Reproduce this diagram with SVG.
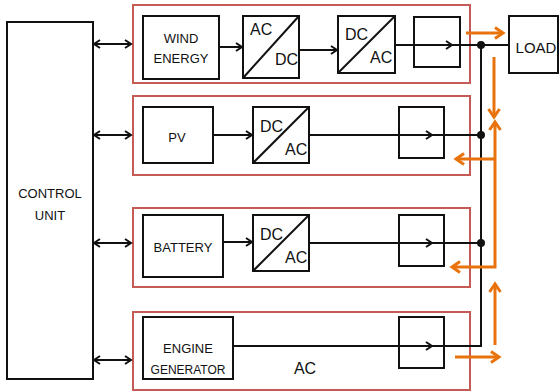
<svg xmlns="http://www.w3.org/2000/svg" width="560" height="392" viewBox="0 0 560 392">
<style>
.box{fill:#fff;stroke:#111;stroke-width:2}
.grp{fill:none;stroke:#C65A57;stroke-width:2}
.t{font-family:"Liberation Sans",Arial,sans-serif;font-size:13px;fill:#111}
.big{font-family:"Liberation Sans",Arial,sans-serif;font-size:16px;fill:#111}
.ln{fill:none;stroke:#111;stroke-width:2}
.or{fill:none;stroke:#E8730C;stroke-width:3}
</style>
<defs>
<marker id="ah" markerUnits="userSpaceOnUse" markerWidth="10" markerHeight="10" refX="7" refY="5" orient="auto-start-reverse" viewBox="0 0 10 10">
<path d="M1,1 L7,5 L1,9" fill="none" stroke="#111" stroke-width="2"/>
</marker>
<marker id="oh" markerUnits="userSpaceOnUse" markerWidth="14" markerHeight="14" refX="10" refY="7" orient="auto-start-reverse" viewBox="0 0 14 14">
<path d="M2,1.5 L10,7 L2,12.5" fill="none" stroke="#E8730C" stroke-width="3"/>
</marker>
</defs>
<rect width="560" height="392" fill="#fff"/>

<g id="control-unit">
<rect class="box" x="7" y="22" width="86" height="357"/>
<text class="t" x="50" y="198" text-anchor="middle">CONTROL</text>
<text class="t" x="50" y="220" text-anchor="middle">UNIT</text>
</g>

<g id="wind-row">
<rect class="grp" x="133" y="5" width="337" height="78"/>
<g id="wind-energy">
<rect class="box" x="143" y="16" width="76" height="63"/>
<text class="t" x="181" y="43" text-anchor="middle">WIND</text>
<text class="t" x="181" y="63" text-anchor="middle">ENERGY</text>
</g>
<g id="acdc-1">
<rect class="box" x="243" y="16" width="56" height="62"/>
<line class="ln" x1="243" y1="78" x2="299" y2="16"/>
<text class="big" x="250" y="35">AC</text>
<text class="big" x="275" y="65">DC</text>
</g>
<g id="dcac-1">
<rect class="box" x="338" y="16" width="57" height="57"/>
<line class="ln" x1="338" y1="73" x2="395" y2="16"/>
<text class="big" x="345" y="40">DC</text>
<text class="big" x="370" y="63">AC</text>
</g>
<g id="sw-1"><rect class="box" x="414" y="17" width="46" height="50"/></g>
</g>

<g id="pv-row">
<rect class="grp" x="133" y="96" width="337" height="79"/>
<g id="pv">
<rect class="box" x="143" y="107" width="70" height="56"/>
<text class="t" x="177" y="142" text-anchor="middle">PV</text>
</g>
<g id="dcac-2">
<rect class="box" x="253" y="107" width="56" height="56"/>
<line class="ln" x1="253" y1="163" x2="309" y2="107"/>
<text class="big" x="260" y="132">DC</text>
<text class="big" x="285" y="155">AC</text>
</g>
<g id="sw-2"><rect class="box" x="399" y="107" width="45" height="51"/></g>
</g>

<g id="battery-row">
<rect class="grp" x="133" y="208" width="337" height="79"/>
<g id="battery">
<rect class="box" x="143" y="215" width="80" height="62"/>
<text class="t" x="183" y="252" text-anchor="middle">BATTERY</text>
</g>
<g id="dcac-3">
<rect class="box" x="253" y="215" width="56" height="56"/>
<line class="ln" x1="253" y1="271" x2="309" y2="215"/>
<text class="big" x="260" y="240">DC</text>
<text class="big" x="285" y="263">AC</text>
</g>
<g id="sw-3"><rect class="box" x="399" y="215" width="45" height="51"/></g>
</g>

<g id="engine-row">
<rect class="grp" x="133" y="312" width="337" height="78"/>
<g id="engine-generator">
<rect class="box" x="143" y="317" width="90" height="62"/>
<text class="t" x="188" y="353" text-anchor="middle">ENGINE</text>
<text class="t" x="188" y="374" text-anchor="middle" style="font-size:12px">GENERATOR</text>
</g>
<text class="big" x="305" y="374" text-anchor="middle">AC</text>
<g id="sw-4"><rect class="box" x="399" y="317" width="45" height="51"/></g>
</g>

<g id="load">
<rect class="box" x="509" y="16" width="49" height="57"/>
<text class="t" x="536" y="53" text-anchor="middle" style="font-size:15px">LOAD</text>
</g>

<g id="connectors">
<line class="ln" x1="94" y1="44" x2="131" y2="44" marker-start="url(#ah)" marker-end="url(#ah)"/>
<line class="ln" x1="94" y1="135" x2="131" y2="135" marker-start="url(#ah)" marker-end="url(#ah)"/>
<line class="ln" x1="94" y1="243" x2="131" y2="243" marker-start="url(#ah)" marker-end="url(#ah)"/>
<line class="ln" x1="94" y1="360" x2="131" y2="360" marker-start="url(#ah)" marker-end="url(#ah)"/>

<line class="ln" x1="219" y1="47" x2="242" y2="47" marker-end="url(#ah)"/>
<line class="ln" x1="299" y1="50" x2="337" y2="50" marker-end="url(#ah)"/>
<line class="ln" x1="213" y1="135" x2="252" y2="135" marker-end="url(#ah)"/>
<line class="ln" x1="223" y1="242" x2="252" y2="242" marker-end="url(#ah)"/>

<line class="ln" x1="395" y1="45" x2="452" y2="45" marker-end="url(#ah)"/>
<line class="ln" x1="452" y1="45" x2="509" y2="45"/>
<line class="ln" x1="309" y1="135" x2="432" y2="135" marker-end="url(#ah)"/>
<line class="ln" x1="432" y1="135" x2="481" y2="135"/>
<line class="ln" x1="309" y1="243" x2="432" y2="243" marker-end="url(#ah)"/>
<line class="ln" x1="432" y1="243" x2="481" y2="243"/>
<line class="ln" x1="233" y1="346" x2="432" y2="346" marker-end="url(#ah)"/>
<path class="ln" d="M432,346 L481,346 L481,45"/>
<circle cx="481" cy="45" r="4" fill="#111"/>
<circle cx="481" cy="135" r="4" fill="#111"/>
<circle cx="481" cy="243" r="4" fill="#111"/>

<line class="or" x1="466" y1="33" x2="503" y2="33" marker-end="url(#oh)"/>
<line class="or" x1="494" y1="57" x2="494" y2="117" marker-end="url(#oh)"/>
<path class="or" d="M495,122 L495,267 L452,267" marker-start="url(#oh)" marker-end="url(#oh)"/>
<line class="or" x1="495" y1="159" x2="456" y2="159" marker-end="url(#oh)"/>
<line class="or" x1="495" y1="345" x2="495" y2="284" marker-end="url(#oh)"/>
<line class="or" x1="455" y1="357" x2="499" y2="357" marker-end="url(#oh)"/>
</g>
</svg>
